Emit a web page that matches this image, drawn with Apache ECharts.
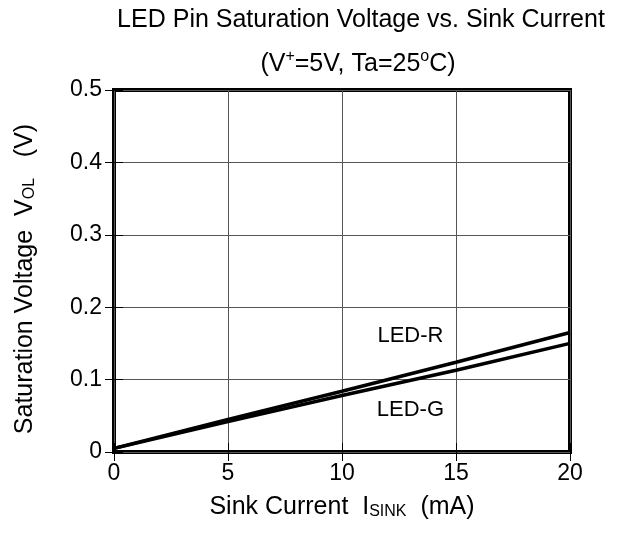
<!DOCTYPE html>
<html>
<head>
<meta charset="utf-8">
<title>LED Pin Saturation Voltage vs. Sink Current</title>
<script src="https://cdn.jsdelivr.net/npm/echarts@6/dist/echarts.min.js"></script>
<style>
	html, body { margin: 0; padding: 0; background: #fff; }
	#chart { width: 622px; height: 534px; }
</style>
</head>
<body>
<div id="chart"></div>
<script>
	// sink current (mA) sample points
	var current = [0, 5, 10, 15, 20];
	// saturation voltage (V)
	var ledR = [0.005, 0.045, 0.084, 0.124, 0.165];
	var ledG = [0.005, 0.042, 0.078, 0.113, 0.150];
	var seriesNames = ['LED-R', 'LED-G'];

	var font = 'Liberation Sans, Arial, sans-serif';

	function pairs(ys) {
		return current.map(function (x, i) { return [x, ys[i]]; });
	}

	var chart = echarts.init(document.getElementById('chart'));

	var tickStyle = { show: true, inside: true, length: 9, lineStyle: { color: '#000', width: 1 } };
	var main = { fontFamily: font, fontSize: 25, fontWeight: 'normal', color: '#000' };
	var small = { fontFamily: font, fontSize: 16, fontWeight: 'normal', color: '#000' };

	// text label sitting on the chart at a data position
	function tag(name, coord) {
		return {
			symbol: 'rect', symbolSize: 1,
			itemStyle: { color: 'rgba(0,0,0,0)' },
			label: { show: true, position: 'inside', formatter: name, fontFamily: font, fontSize: 22, color: '#000' },
			data: [{ coord: coord }]
		};
	}

	chart.setOption({
		animation: false,
		title: [
			{
				text: 'LED Pin Saturation Voltage vs. Sink Current',
				left: 356, top: 3, textAlign: 'center',
				textStyle: main
			},
			{
				text: '{m|(V}{s|+}{m|=5V, Ta=25}{s|o}{m|C)}',
				left: 353, top: 44, textAlign: 'center',
				textStyle: {
					fontWeight: 'normal',
					rich: {
						m: Object.assign({ lineHeight: 28, verticalAlign: 'bottom' }, main),
						s: Object.assign({ lineHeight: 15, verticalAlign: 'top' }, small)
					}
				}
			}
		],
		grid: {
			left: 113, right: 52, top: 90, bottom: 82,
			show: true, borderColor: '#000', borderWidth: 4
		},
		xAxis: [
			{
				type: 'value', min: 0, max: 20, interval: 5,
				axisLine: { show: false },
				axisTick: tickStyle,
				axisLabel: { fontFamily: font, fontSize: 23, color: '#000', margin: 10 },
				splitLine: { show: true, lineStyle: { color: '#555', width: 1 } },
				name: '{m|Sink Current  I}{s|SINK}{m|  (mA)}',
				nameLocation: 'middle', nameGap: 38,
				nameTextStyle: {
					rich: {
						m: Object.assign({ lineHeight: 25, verticalAlign: 'top' }, main),
						s: Object.assign({ lineHeight: 16, verticalAlign: 'bottom', padding: [14, 0, 0, 0] }, small)
					}
				}
			},
			{
				type: 'value', position: 'top', min: 0, max: 20, interval: 5,
				axisLine: { show: false }, axisTick: tickStyle,
				axisLabel: { show: false }, splitLine: { show: false }
			}
		],
		yAxis: [
			{
				type: 'value', min: 0, max: 0.5, interval: 0.1,
				axisLine: { show: false },
				axisTick: tickStyle,
				axisLabel: { fontFamily: font, fontSize: 23, color: '#000', margin: 12 },
				splitLine: { show: true, lineStyle: { color: '#555', width: 1 } },
				name: '{m|Saturation Voltage  V}{s|OL}{m|   (V)}',
				nameLocation: 'middle', nameRotate: 90, nameGap: 76,
				nameTextStyle: {
					padding: [0, 16, 0, 0],
					rich: {
						m: Object.assign({ lineHeight: 25, verticalAlign: 'top' }, main),
						s: Object.assign({ lineHeight: 16, verticalAlign: 'bottom', padding: [14, 0, 0, 0] }, small)
					}
				}
			},
			{
				type: 'value', position: 'right', min: 0, max: 0.5, interval: 0.1,
				axisLine: { show: false }, axisTick: tickStyle,
				axisLabel: { show: false }, splitLine: { show: false }
			}
		],
		series: [
			{
				name: seriesNames[0], type: 'line', symbol: 'none',
				data: pairs(ledR),
				lineStyle: { color: '#000', width: 3.5 },
				markPoint: tag(seriesNames[0], [13.0, 0.160])
			},
			{
				name: seriesNames[1], type: 'line', symbol: 'none',
				data: pairs(ledG),
				lineStyle: { color: '#000', width: 3.5 },
				markPoint: tag(seriesNames[1], [13.0, 0.058])
			}
		]
	});
</script>
</body>
</html>
